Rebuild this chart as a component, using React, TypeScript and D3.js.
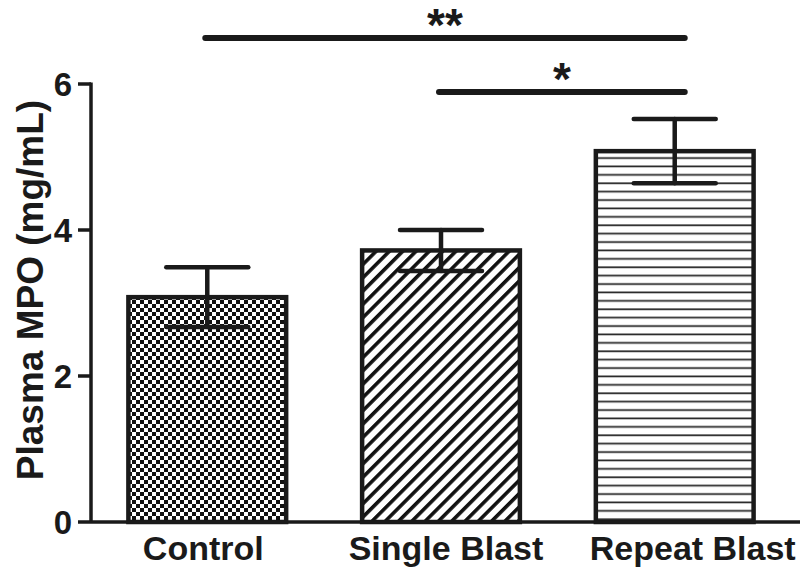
import React from "react";
import { scaleBand, scaleLinear } from "d3";

const categories = ["Control", "Single Blast", "Repeat Blast"];
const means = [3.08, 3.72, 5.08];
const errors = [0.41, 0.28, 0.44];
const patterns = ["check", "diag", "horiz"];
const yTicks = [0, 2, 4, 6];
const sigBars = [
  { from: "Control", to: "Repeat Blast", label: "**", level: 6.63 },
  { from: "Single Blast", to: "Repeat Blast", label: "*", level: 5.89 },
];

const FONT = "'Liberation Sans', Arial, Helvetica, sans-serif";

export default function App() {
  const width = 800;
  const height = 567;
  const axisX = 91;

  const x = scaleBand<string>()
    .domain(categories)
    .range([axisX, 791])
    .paddingInner(0.325)
    .paddingOuter(0.16);

  const y = scaleLinear().domain([0, 6]).range([522, 84]);
  const bw = x.bandwidth();
  const cx = (c: string) => (x(c) ?? 0) + bw / 2;
  const labelShift: Record<string, number> = { Control: -4, "Single Blast": 5, "Repeat Blast": 18 };

  return (
    <svg
      width={width}
      height={height}
      style={{ position: "absolute", left: 0, top: 0, background: "#fff" }}
      fontFamily={FONT}
    >
      <defs>
        <pattern id="check" patternUnits="userSpaceOnUse" width={8} height={8}>
          <rect width={8} height={8} fill="#fff" />
          <rect x={0} y={0} width={4} height={4} fill="#111" />
          <rect x={4} y={4} width={4} height={4} fill="#111" />
        </pattern>
        <pattern
          id="diag"
          patternUnits="userSpaceOnUse"
          width={9.4}
          height={10}
          patternTransform="rotate(45)"
        >
          <rect width={9.4} height={10} fill="#fff" />
          <rect x={0} y={0} width={3.6} height={10} fill="#111" />
        </pattern>
        <pattern id="horiz" patternUnits="userSpaceOnUse" width={10} height={8.4}>
          <rect width={10} height={8.4} fill="#fff" />
          <rect x={0} y={6} width={10} height={1.7} fill="#222" />
        </pattern>
      </defs>

      {/* bars */}
      {categories.map((c, i) => (
        <rect
          key={c}
          x={x(c)}
          y={y(means[i])}
          width={bw}
          height={y(0) - y(means[i])}
          fill={`url(#${patterns[i]})`}
          stroke="#1a1a1a"
          strokeWidth={4.5}
        />
      ))}

      {/* error bars */}
      {categories.map((c, i) => {
        const hi = y(means[i] + errors[i]);
        const lo = y(means[i] - errors[i]);
        const xc = cx(c);
        return (
          <g key={c} stroke="#1a1a1a" strokeWidth={4.5} strokeLinecap="round">
            <line x1={xc} x2={xc} y1={hi} y2={lo} />
            <line x1={xc - 41} x2={xc + 41} y1={hi} y2={hi} />
            <line x1={xc - 41} x2={xc + 41} y1={lo} y2={lo} />
          </g>
        );
      })}

      {/* axes */}
      <line x1={axisX} x2={axisX} y1={y(6) - 1.5} y2={y(0)} stroke="#1a1a1a" strokeWidth={3.5} />
      <line x1={axisX} x2={width} y1={y(0)} y2={y(0)} stroke="#1a1a1a" strokeWidth={3.5} />
      {yTicks.map((t) => (
        <g key={t}>
          <line x1={axisX - 13} x2={axisX} y1={y(t)} y2={y(t)} stroke="#1a1a1a" strokeWidth={3.5} />
          <text
            x={axisX - 19}
            y={y(t)}
            dy="0.36em"
            textAnchor="end"
            fontSize={33}
            fontWeight="bold"
            fill="#1a1a1a"
          >
            {t}
          </text>
        </g>
      ))}

      {categories.map((c) => (
        <text
          key={c}
          x={cx(c) + labelShift[c]}
          y={560}
          textAnchor="middle"
          fontSize={34}
          fontWeight="bold"
          fill="#1a1a1a"
        >
          {c}
        </text>
      ))}

      <text
        transform={`translate(30, 290) rotate(-90)`}
        textAnchor="middle"
        dy="0.36em"
        fontSize={37}
        fontWeight="bold"
        fill="#1a1a1a"
      >
        Plasma MPO (mg/mL)
      </text>

      {/* significance */}
      {sigBars.map((s) => {
        const x1 = cx(s.from) - 2;
        const x2 = cx(s.to) + 10;
        const ly = y(s.level);
        return (
          <g key={s.label}>
            <line x1={x1} x2={x2} y1={ly} y2={ly} stroke="#1a1a1a" strokeWidth={6} strokeLinecap="round" />
            <text
              x={(x1 + x2) / 2}
              y={ly + 3}
              textAnchor="middle"
              fontSize={46}
              fontWeight="bold"
              fill="#1a1a1a"
            >
              {s.label}
            </text>
          </g>
        );
      })}
    </svg>
  );
}
